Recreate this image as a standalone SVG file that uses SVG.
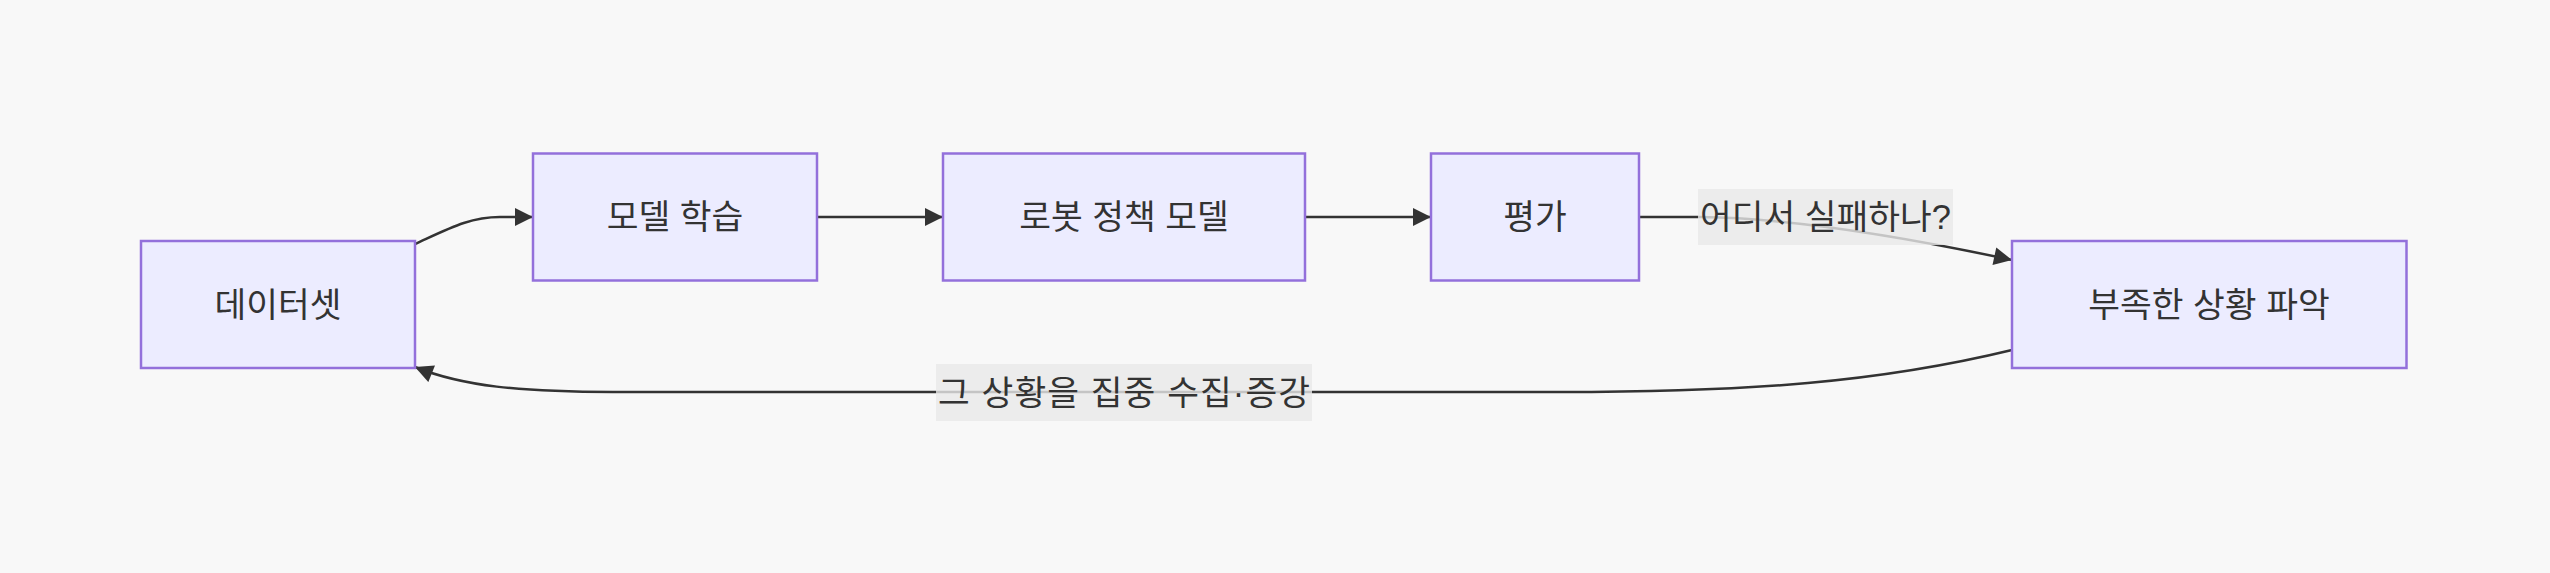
<svg xmlns="http://www.w3.org/2000/svg" width="2550" height="573" viewBox="0 0 2550 573">
<style>
.node rect{fill:#ECECFF;stroke:#9370DB;stroke-width:2.5}
text{font-family:"Liberation Sans","Noto Sans CJK KR",sans-serif;font-size:34.5px;fill:#333333;text-anchor:middle;dominant-baseline:central}
.edge{fill:none;stroke:#333333;stroke-width:2.5}
.lbl{fill:#e8e8e8;opacity:0.8}
</style>
<defs>
<marker id="arrow" viewBox="0 0 10 10" refX="10" refY="5" markerUnits="userSpaceOnUse" markerWidth="19" markerHeight="18" orient="auto">
<path d="M0,0 L10,5 L0,10 z" fill="#333333"/>
</marker>
</defs>
<rect width="2550" height="573" fill="#f8f8f8"/>
<g id="connectors">
<path class="edge" d="M415,244 C450,228 470,217 500,217 L533,217" marker-end="url(#arrow)"/>
<path class="edge" d="M817,217 L943,217" marker-end="url(#arrow)"/>
<path class="edge" d="M1305,217 L1431,217" marker-end="url(#arrow)"/>
<path class="edge" d="M1639,217 L1700,217 C1790,218 1900,236 2012,260" marker-end="url(#arrow)"/>
<path class="edge" d="M2012,350 C1880,382 1750,392 1560,392 L613,392 C520,392 462,386 415,367" marker-end="url(#arrow)"/>
<g id="label-fail">
<rect class="lbl" x="1698" y="189" width="255" height="56"/>
<text x="1825.5" y="217" textLength="251" lengthAdjust="spacing">어디서 실패하나?</text>
</g>
<g id="label-collect">
<rect class="lbl" x="936" y="364" width="376" height="57"/>
<text x="1124" y="392.5" textLength="372" lengthAdjust="spacing">그 상황을 집중 수집·증강</text>
</g>
</g>
<g id="node-dataset" class="node">
<rect x="141" y="241" width="274" height="127"/>
<text x="278" y="304.5">데이터셋</text>
</g>
<g id="node-train" class="node">
<rect x="533" y="153.5" width="284" height="127"/>
<text x="675" y="217">모델 학습</text>
</g>
<g id="node-policy" class="node">
<rect x="943" y="153.5" width="362" height="127"/>
<text x="1124" y="217">로봇 정책 모델</text>
</g>
<g id="node-eval" class="node">
<rect x="1431" y="153.5" width="208" height="127"/>
<text x="1535" y="217">평가</text>
</g>
<g id="node-gap" class="node">
<rect x="2012" y="241" width="394.5" height="127"/>
<text x="2209" y="304.5">부족한 상황 파악</text>
</g>
</svg>
